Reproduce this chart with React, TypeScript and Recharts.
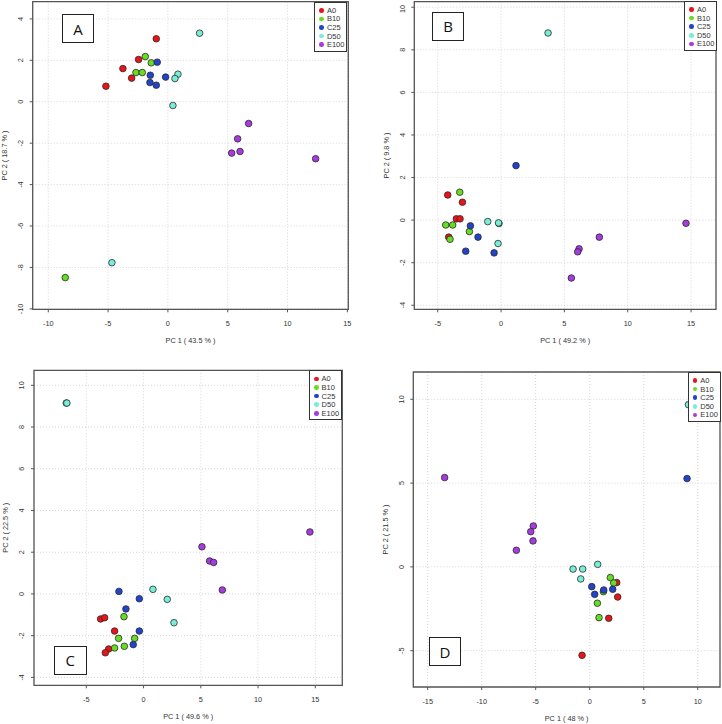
import { ScatterChart, Scatter, XAxis, YAxis, CartesianGrid, ReferenceArea, Label } from 'recharts';

type Pt = [number, number];

const GROUPS = ['A0', 'B10', 'C25', 'D50', 'E100'];
const COLORS = ['#e8141a', '#66dd22', '#2244cc', '#77eed8', '#a63ce0'];
const FONT = '"Liberation Sans", Arial, sans-serif';

// panel A
const A_A0: Pt[] = [[-0.97, 3.04], [-2.45, 2.04], [-3.76, 1.6], [-3.03, 1.14], [-5.18, 0.75]];
const A_B10: Pt[] = [[-1.89, 2.18], [-1.39, 1.88], [-2.67, 1.41], [-2.14, 1.41], [-8.58, -8.49]];
const A_C25: Pt[] = [[-0.89, 1.91], [-1.47, 1.28], [-1.5, 0.93], [-0.97, 0.8], [-0.19, 1.19]];
const A_D50: Pt[] = [[2.65, 3.31], [0.84, 1.33], [0.59, 1.12], [0.42, -0.18], [-4.68, -7.77]];
const A_E100: Pt[] = [[6.75, -1.05], [5.83, -1.79], [6.03, -2.4], [5.33, -2.48], [12.35, -2.75]];

// panel B
const B_A0: Pt[] = [[-4.21, 1.18], [-3.05, 0.84], [-3.53, 0.06], [-3.24, 0.06], [-4.13, -0.8]];
const B_B10: Pt[] = [[-3.26, 1.31], [-4.37, -0.23], [-3.82, -0.23], [-4.03, -0.9], [-2.5, -0.54]];
const B_C25: Pt[] = [[1.18, 2.56], [-2.42, -0.27], [-1.82, -0.8], [-2.79, -1.46], [-0.55, -1.54]];
const B_D50: Pt[] = [[3.71, 8.79], [-1.05, -0.07], [-0.16, -0.16], [-0.2, -0.13], [-0.24, -1.1]];
const B_E100: Pt[] = [[14.6, -0.15], [7.76, -0.8], [6.16, -1.35], [6.05, -1.49], [5.55, -2.72]];

// panel C
const C_A0: Pt[] = [[-3.75, -1.2], [-3.4, -1.14], [-2.53, -1.78], [-3.05, -2.64], [-3.34, -2.82]];
const C_B10: Pt[] = [[-1.71, -1.09], [-2.18, -2.13], [-0.78, -2.13], [-2.53, -2.59], [-1.68, -2.51]];
const C_C25: Pt[] = [[-2.15, 0.12], [-0.37, -0.23], [-1.54, -0.72], [-0.37, -1.78], [-0.9, -2.43]];
const C_D50: Pt[] = [[-6.75, 9.15], [-6.7, 9.15], [0.82, 0.22], [2.07, -0.26], [2.66, -1.38]];
const C_E100: Pt[] = [[14.53, 2.97], [5.1, 2.26], [5.77, 1.58], [6.12, 1.51], [6.88, 0.19]];

// panel D
const D_A0: Pt[] = [[2.5, -0.94], [2.59, -1.8], [1.76, -3.07], [-0.71, -5.28]];
const D_B10: Pt[] = [[1.91, -0.64], [2.22, -0.96], [1.27, -1.48], [0.71, -2.17], [0.86, -3.03]];
const D_C25: Pt[] = [[9.01, 5.27], [0.19, -1.18], [0.46, -1.64], [1.3, -1.38], [2.13, -1.34]];
const D_D50: Pt[] = [[9.14, 9.68], [-1.54, -0.13], [-0.65, -0.13], [-0.83, -0.72], [0.74, 0.15]];
const D_E100: Pt[] = [[-13.43, 5.33], [-5.22, 2.44], [-5.46, 2.1], [-5.25, 1.55], [-6.79, 0.99]];

const X_TICKS_A = [-10, -5, 0, 5, 10, 15];
const Y_TICKS_A = [-10, -8, -6, -4, -2, 0, 2, 4];
const X_TICKS_BC = [-5, 0, 5, 10, 15];
const Y_TICKS_BC = [-4, -2, 0, 2, 4, 6, 8, 10];
const X_TICKS_D = [-15, -10, -5, 0, 5, 10];
const Y_TICKS_D = [-5, 0, 5, 10];

const PANELS = [
  {
    key: 'A', left: 0, top: 0, box: { l: 32.7, r: 348.3, t: 1.7, b: 309.3 },
    xDomain: [-11.3, 15.08], yDomain: [-10.02, 4.83], xTicks: X_TICKS_A, yTicks: Y_TICKS_A,
    xTitle: 'PC 1 ( 43.5 % )', yTitle: 'PC 2 ( 18.7 % )',
    series: [A_A0, A_B10, A_C25, A_D50, A_E100], letter: { x: 61.7, y: 14 }, legend: { x: 314.3, y: 1.7 },
  },
  {
    key: 'B', left: 361, top: 0, box: { l: 53.3, r: 355, t: 1.7, b: 309.3 },
    xDomain: [-6.85, 16.97], yDomain: [-4.19, 10.26], xTicks: X_TICKS_BC, yTicks: Y_TICKS_BC,
    xTitle: 'PC 1 ( 49.2 % )', yTitle: 'PC 2 ( 9.8 % )',
    series: [B_A0, B_B10, B_C25, B_D50, B_E100], letter: { x: 70.7, y: 11.7 }, legend: { x: 323.3, y: 1 },
  },
  {
    key: 'C', left: 0, top: 362, box: { l: 34, r: 342.3, t: 8.3, b: 323.3 },
    xDomain: [-9.57, 17.36], yDomain: [-4.38, 10.72], xTicks: X_TICKS_BC, yTicks: Y_TICKS_BC,
    xTitle: 'PC 1 ( 49.6 % )', yTitle: 'PC 2 ( 22.5 % )',
    series: [C_A0, C_B10, C_C25, C_D50, C_E100], letter: { x: 54, y: 283.7 }, legend: { x: 309, y: 8.3 },
  },
  {
    key: 'D', left: 361, top: 362, box: { l: 52.3, r: 359, t: 10, b: 325 },
    xDomain: [-16.33, 12.06], yDomain: [-7.17, 11.63], xTicks: X_TICKS_D, yTicks: Y_TICKS_D,
    xTitle: 'PC 1 ( 48 % )', yTitle: 'PC 2 ( 21.5 % )',
    series: [D_A0, D_B10, D_C25, D_D50, D_E100], letter: { x: 67.7, y: 275 }, legend: { x: 326.7, y: 10 },
  },
];

const W = 361;
const H = 362;

function XTick({ x, y, payload }: any) {
  return (
    <text x={x} y={y + 9} textAnchor="middle" dominantBaseline="central" fontSize={7.3} fill="#333" fontFamily={FONT}>
      {payload.value}
    </text>
  );
}

function YTick({ x, y, payload }: any) {
  const cx = x - 7;
  return (
    <text x={cx} y={y} transform={`rotate(-90, ${cx}, ${y})`} textAnchor="middle" dominantBaseline="central" fontSize={7.3} fill="#333" fontFamily={FONT}>
      {payload.value}
    </text>
  );
}

const dot = (color: string) => (props: any) => (
  <circle cx={props.cx} cy={props.cy} r={3.3} fill={color} stroke="#2a2a2a" strokeWidth={0.8} />
);

function Panel({ p }: { p: (typeof PANELS)[number] }) {
  const { box } = p;
  const midX = (box.l + box.r) / 2;
  const midY = (box.t + box.b) / 2;
  return (
    <div style={{ position: 'absolute', left: p.left, top: p.top, width: W, height: H }}>
      <ScatterChart width={W} height={H} margin={{ top: box.t, right: W - box.r, bottom: 0, left: 0 }}>
        <CartesianGrid strokeDasharray="1 2" stroke="#d6d6d6" />
        <XAxis
          type="number" dataKey="x" domain={p.xDomain} ticks={p.xTicks} allowDataOverflow
          height={H - box.b} axisLine={false} tickLine={{ stroke: '#555' }} tickSize={3} tickMargin={2} tick={<XTick />}
        >
          <Label content={() => (
            <text x={midX} y={box.b + 31} textAnchor="middle" dominantBaseline="central" fontSize={7.3} fill="#333" fontFamily={FONT}>{p.xTitle}</text>
          )} />
        </XAxis>
        <YAxis
          type="number" dataKey="y" domain={p.yDomain} ticks={p.yTicks} allowDataOverflow
          width={box.l} axisLine={false} tickLine={{ stroke: '#555' }} tickSize={3} tickMargin={2} tick={<YTick />}
        >
          <Label content={() => (
            <text x={box.l - 28} y={midY} transform={`rotate(-90, ${box.l - 28}, ${midY})`} textAnchor="middle" dominantBaseline="central" fontSize={7.3} fill="#333" fontFamily={FONT}>{p.yTitle}</text>
          )} />
        </YAxis>
        <ReferenceArea x1={p.xDomain[0]} x2={p.xDomain[1]} y1={p.yDomain[0]} y2={p.yDomain[1]} fill="none" stroke="#555" strokeWidth={1.3} ifOverflow="visible" />
        {p.series.map((pts, i) => (
          <Scatter
            key={GROUPS[i]} name={GROUPS[i]} data={pts.map(([x, y]) => ({ x, y }))}
            fill={COLORS[i]} shape={dot(COLORS[i])} isAnimationActive={false}
          />
        ))}
      </ScatterChart>
      <div style={{
        position: 'absolute', left: p.letter.x, top: p.letter.y, width: 32.6, height: 29.3, boxSizing: 'border-box',
        border: '1.5px solid #222', background: '#fff', display: 'flex', alignItems: 'center', justifyContent: 'center',
        fontFamily: '"Open Sans", sans-serif', fontSize: 15, color: '#111',
      }}>{p.key}</div>
      <div style={{
        position: 'absolute', left: p.legend.x, top: p.legend.y, width: 33, height: 50, boxSizing: 'border-box',
        border: '1px solid #333', background: '#fff', paddingTop: 3.3, fontFamily: FONT, fontSize: 7.5, color: '#333',
      }}>
        {GROUPS.map((g, i) => (
          <div key={g} style={{ height: 8.6, display: 'flex', alignItems: 'center' }}>
            <span style={{ display: 'inline-block', width: 4.6, height: 4.6, borderRadius: '50%', background: COLORS[i], marginLeft: 4, marginRight: 3 }} />
            <span>{g}</span>
          </div>
        ))}
      </div>
    </div>
  );
}

export default function App() {
  return (
    <div style={{ position: 'absolute', left: 0, top: 0, width: 722, height: 724, background: '#fff' }}>
      {PANELS.map((p) => <Panel key={p.key} p={p} />)}
    </div>
  );
}
